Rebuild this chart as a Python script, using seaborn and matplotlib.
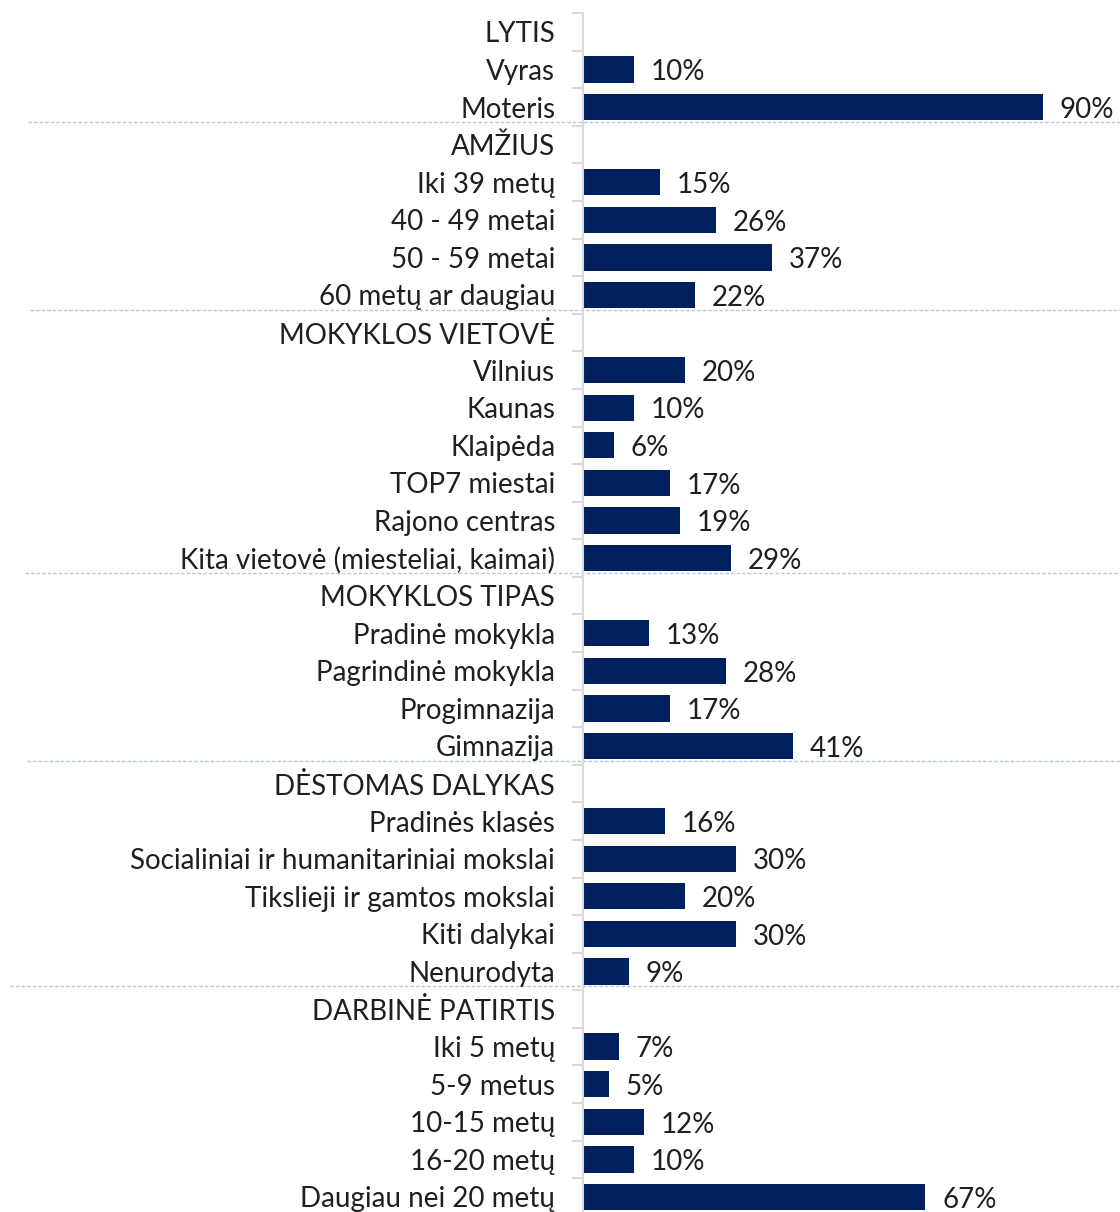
import numpy as np
import pandas as pd
import matplotlib
matplotlib.use("Agg")
import matplotlib.pyplot as plt
import seaborn as sns

# Groups and their categories, values in %
groups = ["LYTIS", "AMŽIUS", "MOKYKLOS VIETOVĖ", "MOKYKLOS TIPAS",
          "DĖSTOMAS DALYKAS", "DARBINĖ PATIRTIS"]

lytis = ["Vyras", "Moteris"]
lytis_vals = [10, 90]

amzius = ["Iki 39 metų", "40 - 49 metai", "50 - 59 metai", "60 metų ar daugiau"]
amzius_vals = [15, 26, 37, 22]

vietove = ["Vilnius", "Kaunas", "Klaipėda", "TOP7 miestai", "Rajono centras",
           "Kita vietovė (miesteliai, kaimai)"]
vietove_vals = [20, 10, 6, 17, 19, 29]

tipas = ["Pradinė mokykla", "Pagrindinė mokykla", "Progimnazija", "Gimnazija"]
tipas_vals = [13, 28, 17, 41]

dalykas = ["Pradinės klasės", "Socialiniai ir humanitariniai mokslai",
           "Tikslieji ir gamtos mokslai", "Kiti dalykai", "Nenurodyta"]
dalykas_vals = [16, 30, 20, 30, 9]

patirtis = ["Iki 5 metų", "5-9 metus", "10-15 metų", "16-20 metų",
            "Daugiau nei 20 metų"]
patirtis_vals = [7, 5, 12, 10, 67]

BAR = "#002060"
TEXT = "#1f1f1f"
SEP = "#B4C7E7"
FS = 20

sns.set_theme(style="white")
plt.rcParams["font.family"] = ["Lato", "DejaVu Sans"]

# Build long table: group header rows carry no value
rows = []
for g, cats, vals in zip(groups,
                         [lytis, amzius, vietove, tipas, dalykas, patirtis],
                         [lytis_vals, amzius_vals, vietove_vals, tipas_vals,
                          dalykas_vals, patirtis_vals]):
    rows.append((g, np.nan, g))
    for c, v in zip(cats, vals):
        rows.append((c, v, g))
df = pd.DataFrame(rows, columns=["label", "value", "group"])
order = list(df["label"])
n = len(order)

fig = plt.figure(figsize=(11.2, 12.12), dpi=100)
ax = fig.add_axes([583 / 1120, -0.0031, 1 - 583 / 1120, 0.9923])

sns.barplot(data=df, y="label", x="value", order=order, orient="h",
            color=BAR, saturation=1, width=0.7, linewidth=0, ax=ax,
            errorbar=None)

ax.set_xlim(0, 537 / (460 / 90))
ax.set_ylim(n - 0.5, -0.5)
ax.set_xlabel("")
ax.set_ylabel("")
ax.set_xticks([])

# value labels next to bar ends
for i, v in enumerate(df["value"]):
    if np.isnan(v):
        continue
    ax.annotate(f"{int(v)}%", (v, i), xytext=(12, -2), textcoords="offset points",
                ha="left", va="center", fontsize=FS, color=TEXT)

# axis styling: grey left spine, small ticks between categories
for s in ["top", "right", "bottom"]:
    ax.spines[s].set_visible(False)
ax.spines["left"].set_color("#D9D9D9")
ax.spines["left"].set_linewidth(1.5)
ax.set_yticks(range(n))
ax.set_yticklabels(order, fontsize=FS, color=TEXT)
ax.tick_params(axis="y", which="major", length=0, pad=20)
ax.set_yticks(np.arange(-0.5, n, 1.0), minor=True)
ax.tick_params(axis="y", which="minor", length=8, width=1.5, color="#D9D9D9",
               left=True)

# dotted separators below each group's last row
group_ends = df.index[df["group"] != df["group"].shift(-1)][:-1]
sep_start = [28, 30, 25, 27, 10]
for y, x0 in zip(group_ends, sep_start):
    yy = y + 0.39
    ax.plot([(x0 - 583) / 537, 1], [yy, yy], transform=ax.get_yaxis_transform(),
            color=SEP, lw=1, ls=(0, (2.5, 1.5)), clip_on=False, zorder=0)

fig.savefig("out.png", dpi=100)
